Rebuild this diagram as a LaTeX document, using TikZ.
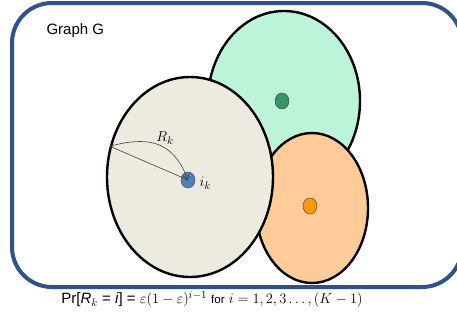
\documentclass[tikz,border=0pt]{standalone}
\usepackage{fontspec}
\setmainfont{Liberation Sans}
\usetikzlibrary{shapes.geometric,arrows.meta}
\definecolor{framec}{RGB}{47,82,143}
\definecolor{beige}{RGB}{237,235,224}
\definecolor{mint}{RGB}{187,244,216}
\definecolor{mintdot}{RGB}{51,150,100}
\definecolor{peach}{RGB}{255,204,153}
\definecolor{orangedot}{RGB}{255,153,0}
\definecolor{bluedot}{RGB}{79,129,189}
\begin{document}
\begin{tikzpicture}[x=1pt,y=-1pt,
  region/.style={ellipse,draw=black,line width=2.4pt,inner sep=0pt},
  dot/.style={ellipse,draw=black!70,line width=0.5pt,inner sep=0pt,minimum width=14pt,minimum height=16pt},
  pointer/.style={draw=black!75,line width=0.6pt}]
\useasboundingbox (0,0) rectangle (457,330);
\fill[white] (0,0) rectangle (457,330);
\draw[framec,line width=4pt,rounded corners=40pt] (12,3) rectangle (462,287);
\node[anchor=west,font=\fontsize{15}{18}\selectfont] (title) at (43,31) {Graph G};
\node[region,fill=mint,minimum width=152pt,minimum height=180pt] (green) at (284,101) {};
\node[region,fill=peach,minimum width=112pt,minimum height=150pt] (orange) at (312,208) {};
\node[region,fill=beige,minimum width=166pt,minimum height=200pt] (big) at (190,177) {};
\node[dot,fill=mintdot] (gdot) at (282,101) {};
\node[dot,fill=orangedot] (odot) at (310,206) {};
\node[dot,fill=bluedot] (bdot) at (188,180) {};
\draw[pointer] (big.159) -- (bdot.center);
\draw[pointer,-{Straight Barb[length=5pt,width=6pt]}] (big.159) .. controls (145,137) and (172,138) .. (bdot.center);
\node[font=\fontsize{15}{17}\selectfont] (rk) at (165,138) {$R_k$};
\node[font=\fontsize{15}{17}\selectfont,anchor=west] (ik) at (196,183) {$i_k$};
\node[font=\fontsize{15}{17}\selectfont] (formula) at (212,299) {Pr[\textit{R}$_k$ = \textit{i}] = $\varepsilon(1-\varepsilon)^{i-1}$ {\fontsize{11.5}{13}\selectfont for} $i=1,2,3\ldots,(K-1)$};
\end{tikzpicture}
\end{document}
